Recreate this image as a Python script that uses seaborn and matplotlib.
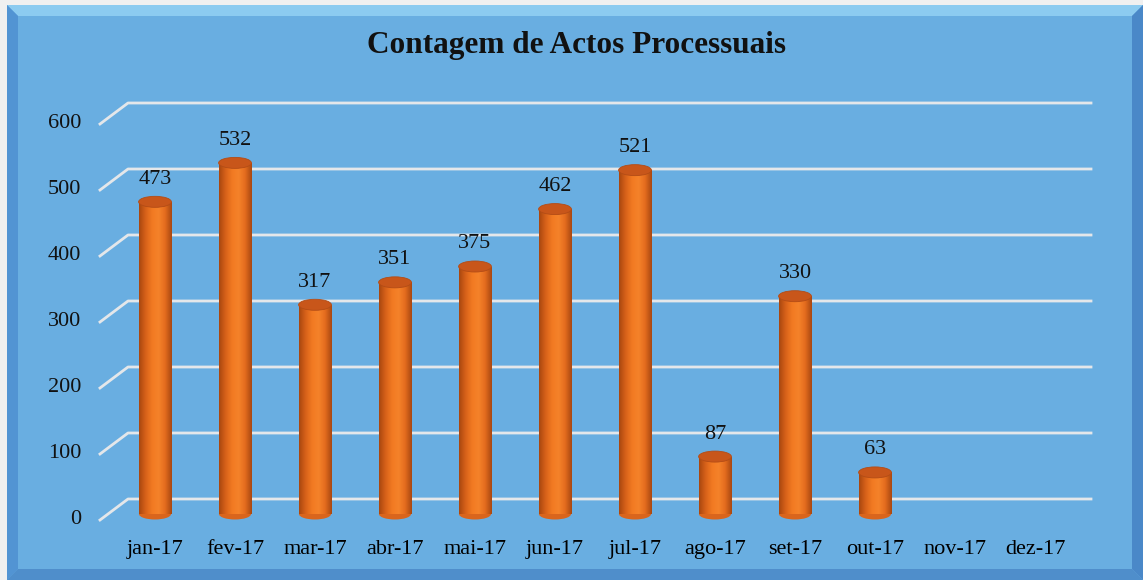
import numpy as np
import matplotlib
matplotlib.use("Agg")
import matplotlib.pyplot as plt
import matplotlib.transforms as mtransforms
from matplotlib.colors import LinearSegmentedColormap
from matplotlib.patches import Ellipse, Polygon
import seaborn as sns

# data
months = ['jan-17', 'fev-17', 'mar-17', 'abr-17', 'mai-17', 'jun-17',
          'jul-17', 'ago-17', 'set-17', 'out-17', 'nov-17', 'dez-17']
counts = [473, 532, 317, 351, 375, 462, 521, 87, 330, 63, np.nan, np.nan]
yticks = [0, 100, 200, 300, 400, 500, 600]
title = 'Contagem de Actos Processuais'

bg = '#69aee1'
bar_color = '#ec721f'
font = ['Liberation Serif', 'DejaVu Serif']

plt.rcParams['font.family'] = font

W, H = 1143, 580
fig = plt.figure(figsize=(W / 100, H / 100), dpi=100)
fig.patch.set_facecolor('#f0f0f0')
ident = mtransforms.IdentityTransform()


def img_poly(pts, color, z=0):
    # polygon in image pixels (y down)
    fig.add_artist(Polygon([(x, H - y) for x, y in pts], closed=True,
                           transform=ident, facecolor=color, edgecolor='none',
                           zorder=z))


# chart area with bevelled frame
L, T, R, B, b = 7, 5, W, H, 11
img_poly([(L, T), (R, T), (R, B), (L, B)], bg, -5)
img_poly([(L, T), (R, T), (R - b, T + b), (L + b, T + b)], '#8ccbf0', -4)
img_poly([(L, T), (L + b, T + b), (L + b, B - b), (L, B)], '#5294d3', -4)
img_poly([(R, T), (R, B), (R - b, B - b), (R - b, T + b)], '#4a88c8', -4)
img_poly([(L, B), (R, B), (R - b, B - b), (L + b, B - b)], '#4f8ecb', -4)

# axes placed so bar centres fall where the reference has them
ax = fig.add_axes([115 / W, 66 / H, 960 / W, 396 / H])
ax.set_facecolor('none')

sns.barplot(x=months, y=counts, order=months, color=bar_color, width=0.41,
            saturation=1, ax=ax, zorder=3)
ax.set_xlim(-0.5, len(months) - 0.5)
ax.set_ylim(0, 600)
for s in ax.spines.values():
    s.set_visible(False)
ax.set_yticks([])
ax.tick_params(axis='x', length=0, pad=19, labelsize=16)
ax.set_xlabel('')
ax.set_ylabel('')

# cylinder look: gradient clipped to each bar plus elliptical caps
cyl = LinearSegmentedColormap.from_list(
    'cyl', ['#a9470f', '#d8621a', '#f27a22', '#f5822a', '#e46c1e', '#a84812'])
grad = np.linspace(0, 1, 64).reshape(1, -1)
px_per_unit = 396 / 600
cap_h = 11 / px_per_unit
for p in ax.patches:
    h = p.get_height()
    if not np.isfinite(h) or h <= 0:
        continue
    x0, w = p.get_x(), p.get_width()
    im = ax.imshow(grad, cmap=cyl, aspect='auto', extent=[x0, x0 + w, 0, h],
                   zorder=3, interpolation='bicubic')
    im.set_clip_path(p)
    p.set_facecolor('none')
    ax.add_patch(Ellipse((x0 + w / 2, 0), w * 0.98, cap_h, facecolor='#d9651d',
                         edgecolor='none', zorder=2.9, clip_on=False))
    ax.add_patch(Ellipse((x0 + w / 2, h), w, cap_h, facecolor='#c8561a',
                         edgecolor='#b34c16', lw=0.6, zorder=3.5))
    ax.annotate(f'{int(h)}', (x0 + w / 2, h), xytext=(0, 13),
                textcoords='offset pixels', ha='center', va='bottom',
                fontsize=16, color='#111111', family=font)

ax.set_xlim(-0.5, len(months) - 0.5)
ax.set_ylim(0, 600)

# gridlines with the 3-D floor offset (back wall + slanted front edge)
to_px = ax.transData
x_front = 100
x_back = 128
x_end = 1091
for v in yticks:
    _, yb = to_px.transform((0, v))
    ax.plot([x_front, x_back, x_end], [yb - 6, yb + 15, yb + 15],
            color='#e4e7ea', lw=2, transform=ident, clip_on=False, zorder=1)
    ax.text(81, yb - 5, str(v), ha='right', va='center', fontsize=16,
            color='#111111', transform=ident, family=font)

fig.text(0.504, 1 - 45 / H, title, ha='center', va='center',
         fontsize=22.5, fontweight='bold', color='#111111', family=font)

fig.savefig('out.png', dpi=100, facecolor=fig.get_facecolor())
